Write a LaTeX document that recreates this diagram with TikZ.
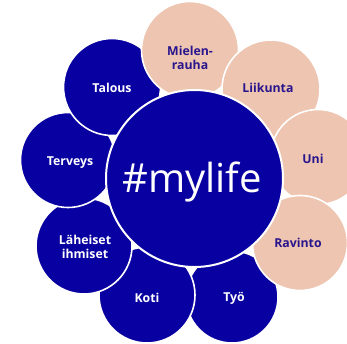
\documentclass[tikz,border=0pt]{standalone}
\usepackage{fontspec}
\setmainfont{Open Sans}
\definecolor{navy}{RGB}{8,0,160}
\definecolor{peach}{RGB}{238,197,176}
\definecolor{peachtext}{RGB}{40,20,140}
\begin{document}
\begin{tikzpicture}[x=1pt,y=-1pt,
  bluebub/.style={circle,fill=navy,draw=white,line width=1.6pt,minimum size=#1,inner sep=0pt},
  peachbub/.style={circle,fill=peach,draw=white,line width=1.6pt,minimum size=#1,inner sep=0pt},
  bluelab/.style={text=white,font=\bfseries\fontsize{12.3}{14.5}\selectfont,align=center},
  peachlab/.style={text=peachtext,font=\bfseries\fontsize{12.3}{14.5}\selectfont,align=center}]
\useasboundingbox (0,0) rectangle (347,343);
\clip (0,0) rectangle (347,343);
\node[bluebub=92pt]  (tyo)   at (232,297) {};
\node[bluebub=96pt]  (koti)  at (147,295) {};
\node[bluebub=96pt]  (lah)   at (84,246) {};
\node[bluebub=95pt]  (terv)  at (68,160) {};
\node[bluebub=97pt]  (tal)   at (112,87) {};
\node[peachbub=97pt] (miel)  at (190,50) {};
\node[peachbub=98pt] (liik)  at (271,89) {};
\node[peachbub=95pt] (uni)   at (318,157) {};
\node[peachbub=95pt] (rav)   at (300,243) {};
\node[circle,fill=navy,draw=white,line width=2pt,minimum size=177pt,inner sep=0pt] (c) at (194.5,178.5) {};
\node[text=white,font=\fontsize{40}{42}\selectfont] at (192,182) {\#mylife};
\node[peachlab] at (190,58) {Mielen-\\rauha};
\node[peachlab] at (268,88) {Liikunta};
\node[peachlab] at (313,159) {Uni};
\node[peachlab] at (298,243) {Ravinto};
\node[bluelab] at (234,298) {Työ};
\node[bluelab] at (147,298) {Koti};
\node[bluelab] at (85,247) {Läheiset\\ihmiset};
\node[bluelab] at (70,163) {Terveys};
\node[bluelab] at (112,88) {Talous};
\end{tikzpicture}
\end{document}
